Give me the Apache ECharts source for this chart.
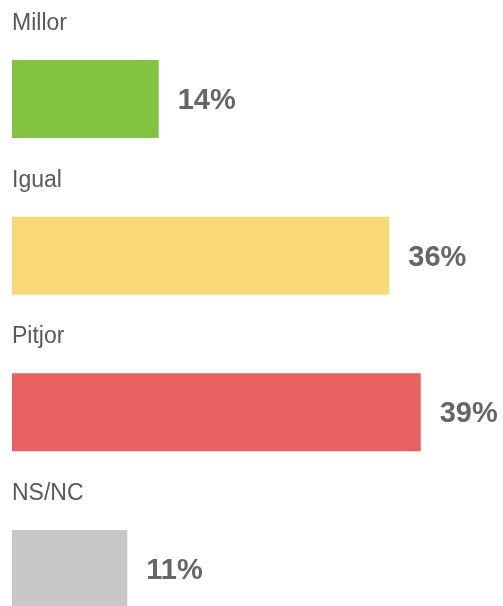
<!DOCTYPE html>
<html><head><meta charset="utf-8">
<script src="https://cdn.jsdelivr.net/npm/echarts@6/dist/echarts.min.js"></script>
<style>html,body{margin:0;padding:0;background:#fff}#c{width:503px;height:606px}</style>
</head><body><div id="c"></div>
<script>
const categories = ['Millor', 'Igual', 'Pitjor', 'NS/NC'];
const values = [14, 36, 39, 11];
const colors = ['#82C341', '#F8D877', '#E86161', '#C8C8C8'];

const chart = echarts.init(document.getElementById('c'), null, {renderer: 'canvas'});
chart.setOption({
  animation: false,
  grid: {left: 12, top: 99, height: 470, width: 471.6, containLabel: false},
  xAxis: {type: 'value', min: 0, max: 45, show: false},
  yAxis: {
    type: 'category', inverse: true, data: categories, boundaryGap: false,
    axisLine: {show: false}, axisTick: {show: false}, splitLine: {show: false},
    axisLabel: {show: false}
  },
  series: [{
    type: 'bar', barWidth: 78, clip: false,
    data: values.map((v, i) => ({value: v, itemStyle: {color: colors[i]}})),
    label: {
      show: true, position: 'right', distance: 19, offset: [0, 2],
      formatter: '{c}%', fontFamily: 'Liberation Sans', fontWeight: 'bold',
      fontSize: 29, color: '#666666'
    }
  }, {
    type: 'bar', barWidth: 78, clip: false, barGap: '-100%', silent: true,
    data: values.map(v => ({value: v, itemStyle: {color: 'rgba(0,0,0,0)'}})),
    label: {
      show: true, position: 'insideTopLeft', distance: 0, offset: [0, -48],
      formatter: '{b}', fontFamily: 'Liberation Sans', fontSize: 23, color: '#595959'
    }
  }]
});
</script></body></html>
